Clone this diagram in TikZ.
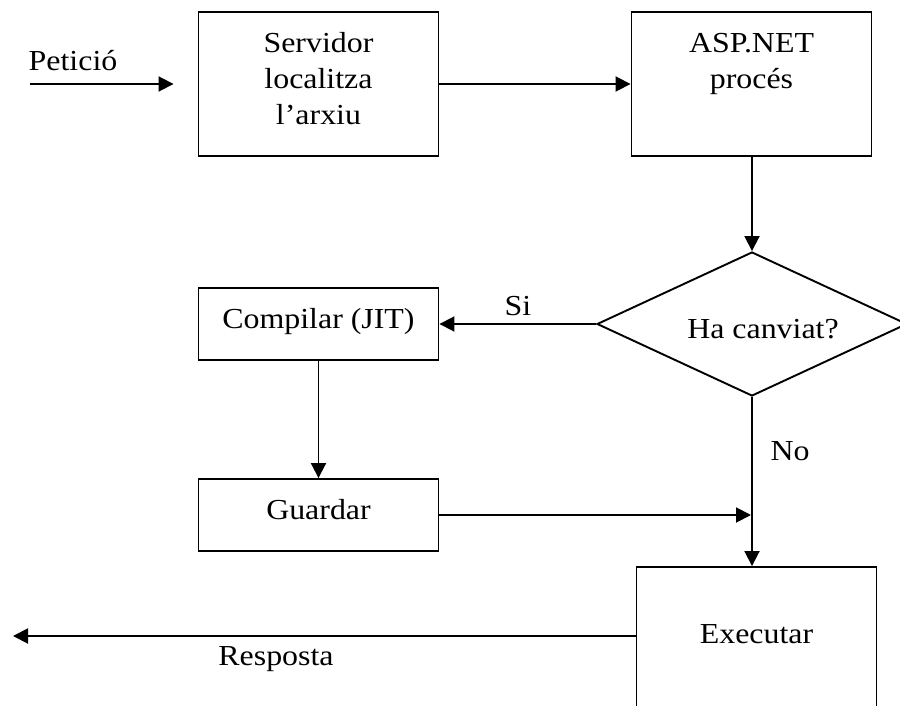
\documentclass[tikz,border=0pt]{standalone}
\usepackage{fontspec}
\setmainfont{Liberation Serif}[FakeStretch=1.1]
\usetikzlibrary{shapes.geometric,arrows.meta}
% strut that fixes first-line height and last-line depth inside boxes
\newcommand\lnstrut{\rule[-14pt]{0pt}{37pt}}
\begin{document}
\begin{tikzpicture}[x=1pt,y=-1pt,
  line width=1.9pt,
  every node/.style={font=\fontsize{29pt}{36.5pt}\selectfont, inner sep=0pt},
  procbox/.style={draw, rectangle, align=center, minimum width=240pt},
  tallbox/.style={procbox, minimum height=144pt},
  lowbox/.style={procbox, minimum height=72pt},
  decision/.style={draw, diamond, aspect=2.15, minimum width=310pt, minimum height=144pt},
  lbl/.style={anchor=base},
  arr/.style={-{Triangle[length=15pt,width=15pt]}}
]
\useasboundingbox (0,0) rectangle (900,706);
\clip (0,0) rectangle (900,706);

% process boxes
\node[tallbox] (srv) at (318.5,84) {\lnstrut Servidor\\localitza\\l’arxiu\lnstrut};
\node[tallbox] (asp) at (751.5,84) {\lnstrut ASP.NET\\procés\\\lnstrut};
\node[decision] (dia) at (752,324) {};
\node[lbl] (dtxt) at (763,338) {Ha canviat?};
\node[lowbox] (cmp) at (318.5,324) {\lnstrut Compilar (JIT)};
\node[lowbox] (grd) at (318.5,515) {\lnstrut Guardar};
\node[tallbox] (exe) at (756.5,639) {\lnstrut Executar};

% free ends of the input and output arrows
\coordinate (pin) at (30,84);
\coordinate (pout) at (13,636);

% labels
\node[lbl] (lpet) at (73,71) {Petició};
\node[lbl] (lsi) at (518,315) {Si};
\node[lbl] (lno) at (790,460) {No};
\node[lbl] (lres) at (276,665) {Resposta};

% connectors
\draw[arr, shorten >=24pt] (pin) -- (srv.west);
\draw[arr] (srv.east) -- (asp.west);
\draw[arr] (asp.south -| dia.north) -- (dia.north);
\draw[arr] (dia.west) -- (cmp.east);
\draw[arr] (cmp.south) -- (grd.north);
\draw[arr, shorten >=1pt] (grd.east) -- (grd.east -| dia.south);
\draw[arr] (dia.south) -- (dia.south |- exe.north);
\draw[arr] ([yshift=3pt]exe.west) -- (pout);
\end{tikzpicture}
\end{document}
